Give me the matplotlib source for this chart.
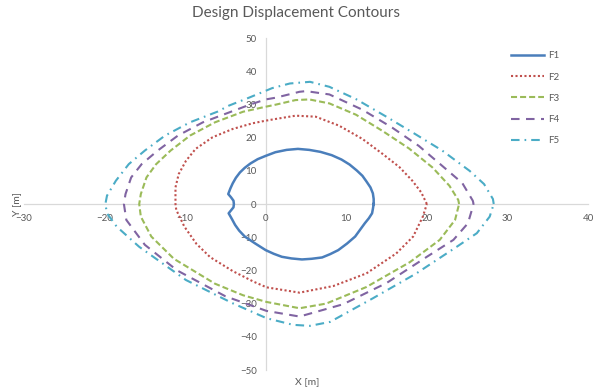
import matplotlib
matplotlib.use('Agg')
import matplotlib.pyplot as plt

# contour points (x, y) in metres, going round anticlockwise
f1_x = [13.4, 13.4, 13.3, 13.0, 12.5, 12.0, 11.3, 10.4, 9.4, 8.2, 6.8, 5.4, 4.0, 2.6, 1.2, 0.0, -1.0, -1.9, -2.6, -3.2, -3.7, -4.1, -4.4, -4.65, -4.3, -4.0, -3.95, -4.0, -4.3, -4.6, -4.2, -3.8, -3.3, -2.6, -1.3, 0.0, 1.0, 2.0, 3.2, 4.5, 5.7, 7.0, 8.0, 9.0, 10.1, 11.1, 11.7, 12.3, 12.8, 13.2, 13.3, 13.4]
f1_y = [0.0, 1.5, 3.2, 5.0, 6.8, 8.5, 10.1, 11.9, 13.4, 14.7, 15.7, 16.3, 16.6, 16.3, 15.6, 14.5, 13.5, 12.2, 10.9, 9.5, 7.9, 6.2, 4.6, 3.0, 2.0, 1.0, 0.0, -1.0, -1.9, -2.8, -4.5, -6.3, -8.0, -9.8, -11.9, -13.9, -15.0, -15.9, -16.4, -16.7, -16.5, -16.1, -15.1, -13.9, -11.9, -9.8, -7.8, -5.8, -4.3, -2.8, -1.5, 0.0]

f2_x = [20.0, 19.3, 18.2, 16.6, 14.5, 12.0, 9.1, 6.2, 3.7, 1.2, 0.0, -1.65, -4.1, -6.6, -8.7, -9.9, -10.8, -11.2, -11.2, -11.1, -10.1, -8.6, -6.9, -4.1, -1.5, 0.1, 4.2, 8.4, 12.5, 16.2, 18.3, 19.5, 20.0]
f2_y = [0.0, 3.5, 7.0, 11.1, 15.1, 19.6, 23.6, 26.3, 26.6, 25.6, 25.1, 24.3, 22.6, 20.1, 16.6, 13.0, 9.0, 5.0, 0.0, -1.8, -6.8, -12.0, -16.0, -20.2, -23.4, -25.1, -26.7, -24.7, -20.9, -14.9, -9.8, -3.8, 0.0]

f3_x = [24.0, 23.9, 22.8, 20.7, 17.8, 14.5, 11.2, 7.9, 5.4, 3.7, 1.2, 0.0, -2.8, -6.3, -9.4, -11.8, -13.6, -14.8, -15.5, -15.7, -15.5, -14.2, -11.4, -6.3, -2.8, 0.1, 4.2, 7.5, 12.5, 17.9, 21.6, 23.5, 24.0]
f3_y = [0.0, 1.2, 5.5, 11.0, 16.7, 22.0, 26.9, 30.3, 31.5, 31.3, 29.9, 29.3, 27.8, 24.6, 20.6, 16.1, 12.0, 8.0, 3.0, 0.0, -3.8, -9.8, -16.5, -24.0, -27.5, -29.5, -31.4, -30.0, -25.0, -17.5, -10.8, -4.8, 0.0]

f4_x = [25.8, 25.7, 24.4, 21.9, 19.0, 15.7, 12.0, 7.9, 5.0, 4.2, 1.2, 0.0, -2.0, -4.3, -7.8, -10.9, -13.4, -15.4, -16.7, -17.4, -17.6, -17.3, -15.0, -11.0, -5.0, 0.1, 4.2, 9.6, 15.0, 20.0, 23.3, 25.1, 25.8]
f4_y = [0.0, 1.0, 6.3, 11.5, 17.5, 23.0, 28.4, 33.0, 34.0, 33.8, 32.0, 31.5, 29.9, 27.8, 24.6, 20.6, 16.1, 12.0, 8.0, 3.0, 0.0, -4.8, -12.3, -20.0, -27.8, -32.2, -33.9, -30.2, -23.8, -15.9, -10.8, -5.8, 0.0]

f5_x = [28.3, 28.2, 27.1, 25.3, 21.9, 18.6, 14.9, 11.2, 7.9, 5.5, 3.0, 0.8, 0.0, -2.1, -4.6, -6.0, -9.4, -12.5, -15.0, -17.0, -18.6, -19.7, -19.9, -19.7, -18.5, -15.7, -9.9, -4.1, 0.1, 3.4, 5.5, 8.0, 13.3, 18.7, 23.7, 26.2, 27.8, 28.3]
f5_y = [0.0, 1.5, 6.0, 10.0, 16.1, 21.0, 26.4, 31.6, 35.3, 36.8, 36.3, 34.9, 34.1, 32.0, 29.6, 27.8, 24.6, 20.6, 16.1, 12.0, 7.0, 2.5, 0.0, -2.8, -6.8, -12.9, -22.9, -29.9, -34.4, -36.4, -36.7, -35.5, -28.4, -20.9, -12.9, -8.8, -3.8, 0.0]

labels = ['F1', 'F2', 'F3', 'F4', 'F5']
x_ticks = [-30, -20, -10, 0, 10, 20, 30, 40]
y_ticks = [-50, -40, -30, -20, -10, 0, 10, 20, 30, 40, 50]

txt = '#595959'
plt.rcParams['font.family'] = ['Lato', 'DejaVu Sans']

fig = plt.figure(figsize=(5.96, 3.91), dpi=100)
ax = fig.add_axes([24 / 596, 21 / 391, 564 / 596, 332 / 391])

ax.plot(f1_x, f1_y, color='#4a7ebb', lw=1.8, label=labels[0])
ax.plot(f2_x, f2_y, color='#c0504d', lw=1.5, linestyle=(0, (1.0, 1.15)), label=labels[1])
ax.plot(f3_x, f3_y, color='#9bbb59', lw=1.5, linestyle=(0, (2.9, 1.45)), label=labels[2])
ax.plot(f4_x, f4_y, color='#8064a2', lw=1.5, linestyle=(0, (4.1, 3.1)), label=labels[3])
ax.plot(f5_x, f5_y, color='#4bacc6', lw=1.5, linestyle=(0, (4.1, 2.4, 0.8, 2.4)), label=labels[4])

ax.set_xlim(-30, 40)
ax.set_ylim(-50, 50)
ax.set_xticks(x_ticks)
ax.set_yticks(y_ticks)

# axes cross at the origin, like the spreadsheet chart
for s in ['top', 'right']:
    ax.spines[s].set_visible(False)
ax.spines['left'].set_position(('data', 0))
ax.spines['bottom'].set_position(('data', 0))
for s in ['left', 'bottom']:
    ax.spines[s].set_color('#d9d9d9')
    ax.spines[s].set_linewidth(0.9)
    ax.spines[s].set_zorder(0)
ax.tick_params(axis='both', length=0, labelsize=7, labelcolor=txt)
ax.tick_params(axis='y', pad=6.5)
ax.tick_params(axis='x', pad=7)
ax.patch.set_visible(False)

fig.text(296.5 / 596, 1 - 13 / 391, 'Design Displacement Contours', ha='center', va='center',
         fontsize=11, color=txt)
fig.text(306.7 / 596, 1 - 381.7 / 391, 'X [m]', ha='center', va='center', fontsize=7.5, color=txt)
fig.text(17 / 596, 1 - 204 / 391, 'Y [m]', ha='center', va='center', rotation=90,
         fontsize=7.5, color=txt)

leg = ax.legend(loc='upper left', bbox_to_anchor=(510.7 / 596, 1 - 51.5 / 391),
                bbox_transform=fig.transFigure, frameon=False, fontsize=7,
                handlelength=3.4, handletextpad=0.4, labelspacing=1.25,
                borderpad=0, borderaxespad=0)
for t in leg.get_texts():
    t.set_color(txt)

fig.savefig('out.png', dpi=100)
